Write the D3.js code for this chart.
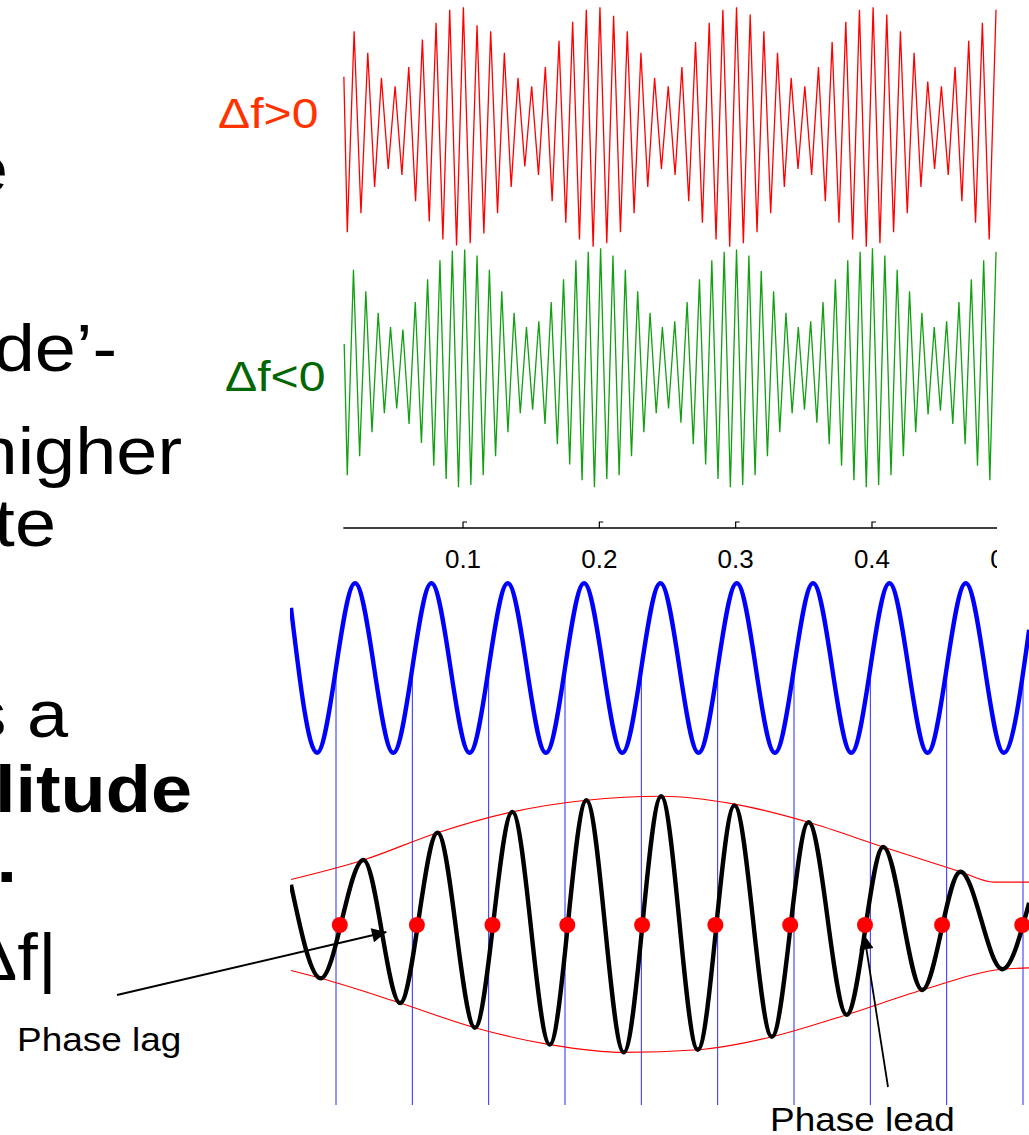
<!DOCTYPE html>
<html>
<head>
<meta charset="utf-8">
<script src="https://cdn.jsdelivr.net/npm/d3@7"></script>
<style>
  body { margin: 0; background: #fff; }
  svg { display: block; }
  text { font-family: "Liberation Sans", Arial, sans-serif; }
</style>
</head>
<body>
<svg id="chart" width="1029" height="1135"></svg>
<script>
// ---- top panel: beat waveforms (time axis in s) ----
const axisTicks = [0.1, 0.2, 0.3, 0.4, 0.5];
const axisSpan = [0.0122, 0.4917];
const waveSpan = [0.0151, 0.491];   // time of first / last extremum

// successive extrema (trough, peak, trough ...), normalised amplitude
const redStart = 0.42;
const redExtrema = [
  -0.88, 0.80, -0.72, 0.62, -0.50, 0.41, -0.35, 0.34, -0.40, 0.50,
  -0.62, 0.73, -0.79, 0.87, -0.94, 0.98, -0.99, 1.00, -0.97, 0.85,
  -0.89, 0.80, -0.72, 0.62, -0.50, 0.41, -0.33, 0.34, -0.40, 0.50,
  -0.62, 0.72, -0.80, 0.88, -0.94, 0.98, -1.00, 1.00, -0.97, 0.93,
  -0.88, 0.80, -0.72, 0.62, -0.50, 0.41, -0.35, 0.34, -0.40, 0.50,
  -0.62, 0.71, -0.80, 0.87, -0.94, 0.98, -1.00, 1.00, -0.97, 0.94,
  -0.88, 0.80, -0.72, 0.62, -0.50, 0.41, -0.35, 0.34, -0.40, 0.50,
  -0.62, 0.71, -0.80, 0.88, -0.94, 0.98, -1.00, 1.00, -0.97, 0.94,
  -0.88, 0.80, -0.72, 0.62, -0.50, 0.38, -0.35, 0.34, -0.40, 0.50,
  -0.62, 0.72, -0.80, 0.87, -0.94, 0.98
];
const greenStart = 0.2;
const greenExtrema = [
  -0.90, 0.82, -0.74, 0.64, -0.54, 0.46, -0.38, 0.34, -0.34, 0.32,
  -0.47, 0.55, -0.63, 0.74, -0.82, 0.90, -0.93, 0.98, -1.00, 0.99,
  -0.98, 0.94, -0.90, 0.82, -0.74, 0.64, -0.54, 0.46, -0.38, 0.34,
  -0.35, 0.39, -0.47, 0.55, -0.64, 0.74, -0.81, 0.90, -0.94, 0.97,
  -1.00, 1.00, -0.93, 0.94, -0.90, 0.82, -0.74, 0.64, -0.54, 0.46,
  -0.38, 0.34, -0.34, 0.39, -0.46, 0.55, -0.64, 0.74, -0.81, 0.90,
  -0.93, 0.97, -1.00, 0.99, -0.98, 0.94, -0.90, 0.81, -0.74, 0.64,
  -0.54, 0.46, -0.38, 0.34, -0.35, 0.39, -0.46, 0.55, -0.64, 0.74,
  -0.82, 0.90, -0.94, 0.97, -1.00, 1.00, -0.98, 0.94, -0.90, 0.82,
  -0.74, 0.64, -0.54, 0.46, -0.39, 0.34, -0.36, 0.39, -0.47, 0.55,
  -0.64, 0.74, -0.82, 0.90, -0.94, 0.97
];

// ---- bottom panel: x in cycles of the reference wave ----
const blueWave = [
  [-0.59, 0.71], [-0.25, -1], [0.25, 1], [0.75, -1], [1.25, 1], [1.75, -1],
  [2.25, 1], [2.75, -1], [3.25, 1], [3.75, -1], [4.25, 1], [4.75, -1],
  [5.25, 1], [5.75, -1], [6.25, 1], [6.75, -1], [7.25, 1], [7.75, -1],
  [8.25, 1], [8.75, -1], [9.08, 0.45]
];
const blackWave = [
  [-0.59, 0.31], [-0.2, -0.41], [0.36, 0.5], [0.84, -0.6], [1.33, 0.71],
  [1.82, -0.79], [2.31, 0.87], [2.8, -0.92], [3.28, 0.96], [3.77, -0.98],
  [4.26, 0.99], [4.74, -0.96], [5.22, 0.92], [5.71, -0.86], [6.19, 0.79],
  [6.69, -0.69], [7.17, 0.6], [7.68, -0.5], [8.18, 0.41], [8.73, -0.34],
  [9.08, 0.17]
];
const envUpper = [
  [-0.59, 0.35], [0.36, 0.5], [1.33, 0.71], [2.31, 0.87], [3.28, 0.96],
  [4.26, 0.99], [5.22, 0.93], [6.19, 0.79], [7.17, 0.6], [8.18, 0.41],
  [8.62, 0.33], [9.08, 0.33]
];
const envLower = [
  [-0.59, -0.35], [-0.2, -0.41], [0.84, -0.6], [1.82, -0.79], [2.8, -0.92],
  [3.77, -0.98], [4.74, -0.96], [5.71, -0.86], [6.69, -0.69], [7.68, -0.5],
  [8.73, -0.34], [9.08, -0.33]
];
const refCrossings = [0, 1, 2, 3, 4, 5, 6, 7, 8, 9];
const beatCrossings = [0.05, 1.06, 2.05, 3.03, 4.01, 4.97, 5.95, 6.93, 7.94, 8.99];

// slide text (only the right-hand ends of the lines are in view)
const bodyLines = [
  { text: 'the', x: 8, y: 192, bold: false },
  { text: '‘amplitude’-', x: 117, y: 371, bold: false },
  { text: 'at a higher', x: 182, y: 474, bold: false },
  { text: 'rate', x: 56, y: 546, bold: false },
  { text: 'This is a', x: 68, y: 737, bold: false },
  { text: 'amplitude', x: 192, y: 812, bold: true },
  { text: 'modulation.', x: 17, y: 882, bold: true },
  { text: '|Δf|', x: 57, y: 980, bold: false }
];

const SX = 1.12; // slide is stretched horizontally
const svg = d3.select('#chart');
svg.append('rect').attr('width', 1029).attr('height', 1135).attr('fill', '#fff');

function stretchedText(g, t, x, y, size, anchor) {
  return g.append('text')
    .attr('transform', `translate(${x},${y}) scale(${SX},1)`)
    .attr('text-anchor', anchor)
    .style('font-size', size + 'px')
    .text(t);
}

// slide body text
bodyLines.forEach(d => {
  stretchedText(svg, d.text, d.x, d.y, 66, 'end')
    .style('font-weight', d.bold ? 'bold' : 'normal')
    .attr('fill', '#000');
});

// ---- top panel ----
const xTop = d3.scaleLinear().domain([0, 0.5]).range([326.7, 1008.3]);
const yRed = d3.scaleLinear().domain([-1, 1]).range([246.7, 7.3]);
const yGreen = d3.scaleLinear().domain([-1, 1]).range([487.3, 248.3]);

svg.append('clipPath').attr('id', 'topClip')
  .append('rect').attr('x', 0).attr('y', 0).attr('width', 997).attr('height', 600);

const topG = svg.append('g').attr('clip-path', 'url(#topClip)');

function drawBeat(values, start, yScale, color) {
  const xi = d3.scaleLinear().domain([0, values.length - 1])
    .range([xTop(waveSpan[0]), xTop(waveSpan[1])]);
  const pts = [[-0.5, start]].concat(values.map((v, i) => [i, v]));
  const line = d3.line().x(d => xi(d[0])).y(d => yScale(d[1]));
  topG.append('path')
    .datum(pts)
    .attr('d', line)
    .attr('fill', 'none')
    .attr('stroke', color)
    .attr('stroke-width', 1.3);
}
drawBeat(redExtrema, redStart, yRed, '#ff0000');
drawBeat(greenExtrema, greenStart, yGreen, '#12a012');

stretchedText(svg, 'Δf>0', 218, 128, 43, 'start').attr('fill', '#ff3300');
stretchedText(svg, 'Δf<0', 225, 391, 43, 'start').attr('fill', '#006600');

// time axis
const axisY = 528;
topG.append('line')
  .attr('x1', xTop(axisSpan[0])).attr('x2', xTop(axisSpan[1]))
  .attr('y1', axisY).attr('y2', axisY)
  .attr('stroke', '#000').attr('stroke-width', 1.5);

topG.selectAll('.tick')
  .data(axisTicks.filter(t => t <= axisSpan[1]))
  .enter().append('path')
  .attr('class', 'tick')
  .attr('d', t => `M${xTop(t)},${axisY} V${axisY - 6} h4`)
  .attr('fill', 'none').attr('stroke', '#000').attr('stroke-width', 1.2);

topG.selectAll('.tick-label')
  .data(axisTicks)
  .enter().append('text')
  .attr('class', 'tick-label')
  .attr('x', t => xTop(t))
  .attr('y', 568)
  .attr('text-anchor', 'middle')
  .style('font-size', '26px')
  .text(t => t.toFixed(1));

// ---- bottom panel ----
const xBot = d3.scaleLinear().domain([0, 9]).range([336, 1023]);
const yBlue = d3.scaleLinear().domain([-1, 1]).range([752.7, 583.3]);
const yBlack = d3.scaleLinear().domain([-1, 1]).range([1055, 795]);
const lineBottom = 1105;

svg.append('clipPath').attr('id', 'botClip')
  .append('rect').attr('x', 290).attr('y', 570).attr('width', 739).attr('height', 560);
const botG = svg.append('g').attr('clip-path', 'url(#botClip)');

const curve = d3.line().x(d => xBot(d[0])).curve(d3.curveMonotoneX);

botG.selectAll('.ref-line')
  .data(refCrossings)
  .enter().append('line')
  .attr('class', 'ref-line')
  .attr('x1', c => xBot(c)).attr('x2', c => xBot(c))
  .attr('y1', yBlue(0)).attr('y2', lineBottom)
  .attr('stroke', '#2a2aff').attr('stroke-width', 1);

botG.append('path')
  .datum(blueWave)
  .attr('d', curve.y(d => yBlue(d[1])))
  .attr('fill', 'none').attr('stroke', '#0000ff').attr('stroke-width', 4.4);

[envUpper, envLower].forEach(env => {
  botG.append('path')
    .datum(env)
    .attr('d', curve.y(d => yBlack(d[1])))
    .attr('fill', 'none').attr('stroke', '#ff0000').attr('stroke-width', 1.1);
});

botG.append('path')
  .datum(blackWave)
  .attr('d', curve.y(d => yBlack(d[1])))
  .attr('fill', 'none').attr('stroke', '#000').attr('stroke-width', 4.4)
  .attr('stroke-linejoin', 'round');

botG.selectAll('.dot')
  .data(beatCrossings)
  .enter().append('circle')
  .attr('class', 'dot')
  .attr('cx', c => xBot(c)).attr('cy', yBlack(0))
  .attr('r', 8)
  .attr('fill', '#ff0000');

// annotations
svg.append('defs').append('marker')
  .attr('id', 'arrow')
  .attr('viewBox', '0 0 10 10')
  .attr('refX', 10).attr('refY', 5)
  .attr('markerWidth', 9).attr('markerHeight', 8)
  .attr('markerUnits', 'strokeWidth')
  .attr('orient', 'auto')
  .append('path').attr('d', 'M0,0 L10,5 L0,10 Z').attr('fill', '#000');

svg.append('line')
  .attr('x1', 117).attr('y1', 995).attr('x2', xBot(0.66)).attr('y2', 932)
  .attr('stroke', '#000').attr('stroke-width', 1.8)
  .attr('marker-end', 'url(#arrow)');
svg.append('line')
  .attr('x1', 888).attr('y1', 1087).attr('x2', xBot(6.92)).attr('y2', 935)
  .attr('stroke', '#000').attr('stroke-width', 1.8)
  .attr('marker-end', 'url(#arrow)');

stretchedText(svg, 'Phase lag', 17, 1051, 33, 'start').attr('fill', '#000');
stretchedText(svg, 'Phase lead', 770, 1131, 33, 'start').attr('fill', '#000');
</script>
</body>
</html>
